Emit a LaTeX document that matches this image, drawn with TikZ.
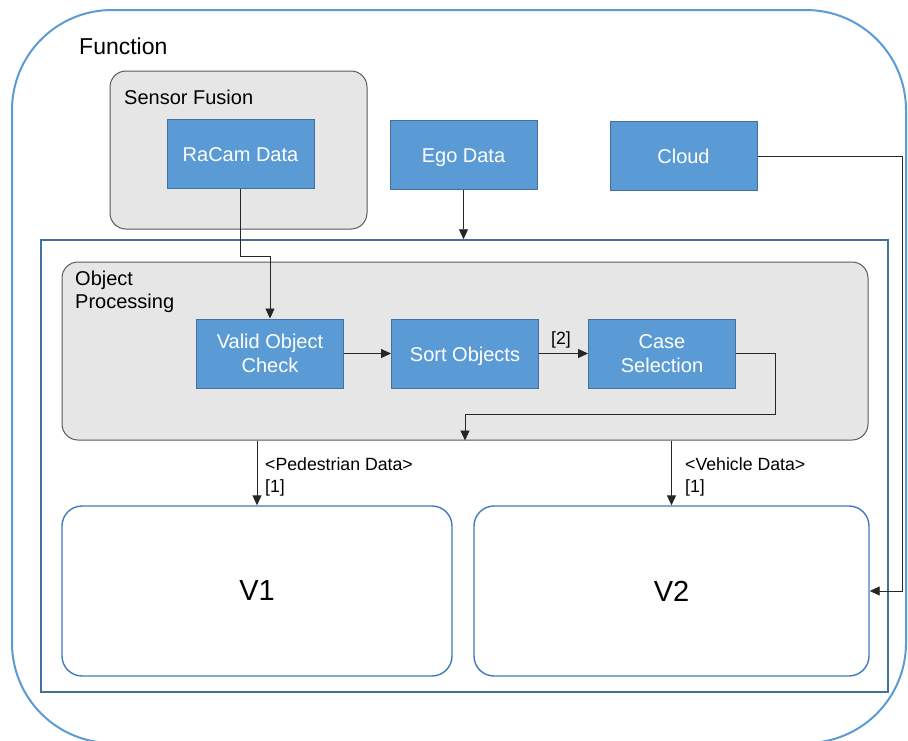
\documentclass[tikz,border=0pt]{standalone}
\usepackage{fontspec}
\setmainfont{Liberation Sans}
\usetikzlibrary{arrows.meta,calc}
\definecolor{boxblue}{HTML}{5B9BD5}
\definecolor{boxedge}{HTML}{41719C}
\definecolor{frameblue}{HTML}{5B9BD5}
\definecolor{grpfill}{HTML}{E6E6E6}
\definecolor{grpedge}{HTML}{595959}
\definecolor{vedge}{HTML}{3F7CBF}
\tikzset{
  x=1pt, y=-1pt,
  blk/.style={rectangle, fill=boxblue, draw=boxedge, line width=1pt, text=white,
    minimum width=147pt, minimum height=69pt, inner sep=2pt, align=center,
    font=\fontsize{20}{24}\selectfont},
  blkone/.style={blk, text height=17.5pt, text depth=2pt},
  grp/.style={rectangle, rounded corners=16pt, fill=grpfill, draw=grpedge, line width=1pt, inner sep=0pt},
  vbox/.style={rectangle, rounded corners=20pt, draw=vedge, line width=1.4pt, fill=white, inner sep=0pt,
    font=\fontsize{29}{34}\selectfont},
  lbl/.style={inner sep=0pt, align=left, font=\fontsize{20}{23}\selectfont},
  small/.style={inner sep=0pt, align=left, font=\fontsize{17.7}{22}\selectfont},
  arr/.style={draw=black!85, line width=0.9pt, -{Triangle[length=10pt,width=9pt]}},
}
\begin{document}
\begin{tikzpicture}
\useasboundingbox (0,0) rectangle (908,740);
% outer frame
\node[rectangle, rounded corners=100pt, draw=frameblue, line width=2pt, minimum width=894pt, minimum height=733pt, inner sep=0pt] (func) at (459,376.5) {};
\node[anchor=west, inner sep=0pt, font=\fontsize{23}{27}\selectfont] (funclbl) at (79,46) {Function};
% sensor fusion
\node[grp, minimum width=257pt, minimum height=158pt] (sf) at (238.5,150) {};
\node[lbl, anchor=west] (sflbl) at (124,97) {Sensor Fusion};
\node[blkone] (racam) at (240.5,154) {RaCam Data};
\node[blkone] (ego) at (463.5,155) {Ego Data};
\node[blkone] (cloud) at (683.5,156) {Cloud};
% inner container
\node[rectangle, draw=boxedge, line width=1.5pt, minimum width=847pt, minimum height=452pt, inner sep=0pt] (inner) at (464.5,466) {};
% object processing
\node[grp, minimum width=806pt, minimum height=178pt] (op) at (465,351) {};
\node[lbl, anchor=north west] (oplbl) at (75,271) {Object\\Processing};
\node[blk] (valid) at (270,353.5) {Valid Object\\Check};
\node[blkone] (sort) at (465,353.5) {Sort Objects};
\node[blk] (case) at (662,353.5) {Case\\Selection};
% V boxes
\node[vbox, minimum width=390pt, minimum height=170pt] (v1) at (257,591) {V1};
\node[vbox, minimum width=395pt, minimum height=170pt] (v2) at (671.5,591) {V2};
% connectors
\draw[arr] (racam.south) -- ++(0,67) -| (valid.north);
\draw[arr] (ego.south) -- (ego.south |- inner.north);
\draw[arr] (cloud.east) -- ++(145,0) |- (v2.east);
\draw[arr] (valid.east) -- (sort.west);
\draw[arr] (sort.east) -- node[small, above=5pt, pos=0.45] (lab2) {[2]} (case.west);
\coordinate (lp) at (775,414);
\draw[arr] (case.east) -| (lp) -| (op.south);
\draw[arr] (v1.north |- op.south) -- (v1.north);
\draw[arr] (v2.north |- op.south) -- (v2.north);
\node[small, anchor=north west] (pedlbl) at (265,457) {<Pedestrian Data>\\{[1]}};
\node[small, anchor=north west] (vehlbl) at (685,457) {<Vehicle Data>\\{[1]}};
\end{tikzpicture}
\end{document}
